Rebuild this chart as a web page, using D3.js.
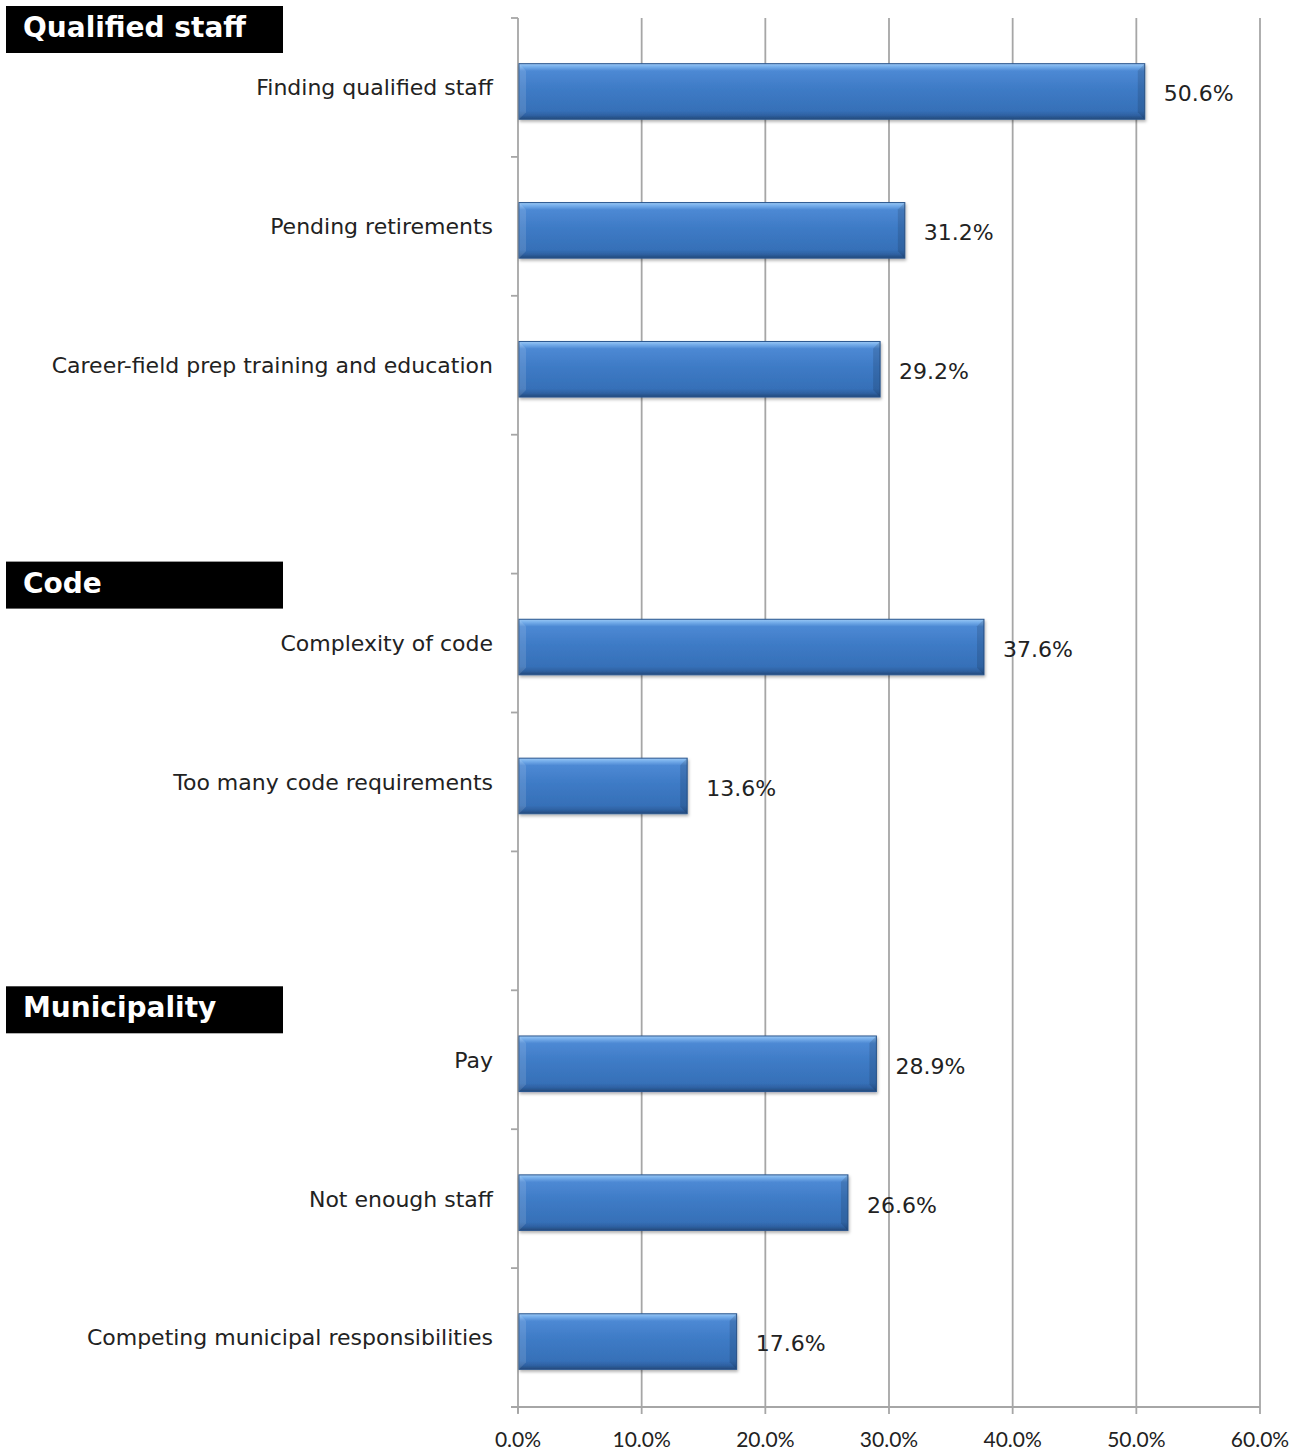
<!DOCTYPE html>
<html><head><meta charset="utf-8">
<script src="https://cdn.jsdelivr.net/npm/d3@7"></script>
<style>body{margin:0;background:#fff}</style>
</head><body>
<script>
const categories = ["Finding qualified staff","Pending retirements","Career-field prep training and education","",
  "Complexity of code","Too many code requirements","",
  "Pay","Not enough staff","Competing municipal responsibilities"];
const values = [50.6,31.2,29.2,null,37.6,13.6,null,28.9,26.6,17.6];
const groups = ["Qualified staff","Code","Municipality"];
const groupStart = [0,4,7];
const xTicks = [0,10,20,30,40,50,60];

const W=1301,H=1450;
const svg=d3.select("body").append("svg").attr("width",W).attr("height",H);
const defs=svg.append("defs");
const g1=defs.append("linearGradient").attr("id","bar").attr("x1",0).attr("y1",0).attr("x2",0).attr("y2",1);
[[0,"#9cc8f4"],[0.05,"#78b0ec"],[0.13,"#4d89d4"],[0.45,"#3e7bc6"],[0.85,"#3670b8"],[0.93,"#2e61a2"],[1,"#24497a"]]
 .forEach(([o,c])=>g1.append("stop").attr("offset",o).attr("stop-color",c));
const f=defs.append("filter").attr("id","sh").attr("x","-5%").attr("y","-20%").attr("width","115%").attr("height","160%");
f.append("feDropShadow").attr("dx",1).attr("dy",2).attr("stdDeviation",1.5).attr("flood-color","#000").attr("flood-opacity",0.3);

const x=d3.scaleLinear().domain([0,60]).range([518,1260]);
const y=d3.scaleBand().domain(d3.range(categories.length)).range([18,1407]).paddingInner(0.6).paddingOuter(0.3);
const step=y.step();
const axisCol="#a6a6a6";

// gridlines
svg.append("g").selectAll("line").data(xTicks.slice(1)).join("line")
 .attr("x1",d=>x(d)).attr("x2",d=>x(d)).attr("y1",18).attr("y2",1407)
 .attr("stroke",axisCol).attr("stroke-width",1.8);

// y axis line & ticks
svg.append("line").attr("x1",518).attr("x2",518).attr("y1",18).attr("y2",1413).attr("stroke",axisCol).attr("stroke-width",1.8);
svg.append("g").selectAll("line").data(d3.range(categories.length+1)).join("line")
 .attr("x1",511).attr("x2",518).attr("y1",i=>18+i*step).attr("y2",i=>18+i*step)
 .attr("stroke",axisCol).attr("stroke-width",1.8);
// x axis
svg.append("line").attr("x1",511).attr("x2",1260).attr("y1",1407).attr("y2",1407).attr("stroke",axisCol).attr("stroke-width",1.8);
svg.append("g").selectAll("line").data(xTicks).join("line")
 .attr("x1",d=>x(d)).attr("x2",d=>x(d)).attr("y1",1407).attr("y2",1414)
 .attr("stroke",axisCol).attr("stroke-width",1.8);
svg.append("g").selectAll("text").data(xTicks).join("text")
 .attr("x",d=>x(d)).attr("y",1447).attr("text-anchor","middle")
 .attr("font-family","Lato, 'Liberation Sans', sans-serif").attr("font-size",21).attr("fill","#222")
 .text(d=>d.toFixed(1)+"%");

const data=categories.map((c,i)=>({c,v:values[i],i})).filter(d=>d.v!=null);
const bh=y.bandwidth();
const bg=svg.append("g").selectAll("g").data(data).join("g")
 .attr("transform",d=>`translate(${x(0)+1},${y(d.i)+4})`);
bg.append("rect").attr("width",d=>x(d.v)-x(0)).attr("height",bh)
 .attr("fill","url(#bar)").attr("stroke","#2a568e").attr("stroke-width",1).attr("filter","url(#sh)");
// bevel ends
bg.append("path").attr("d",`M0,0 L7,7 L7,${bh-7} L0,${bh} Z`).attr("fill","rgba(255,255,255,0.12)");
bg.append("path").attr("d",d=>{const w=x(d.v)-x(0);return `M${w},0 L${w-7},7 L${w-7},${bh-7} L${w},${bh} Z`;})
 .attr("fill","rgba(0,0,0,0.12)");

svg.append("g").selectAll("text").data(data).join("text")
 .attr("x",d=>x(d.v)+20).attr("y",d=>y(d.i)+6+bh/2).attr("dy","0.36em")
 .attr("font-family","'DejaVu Sans', Verdana, sans-serif").attr("font-size",22).attr("fill","#222")
 .text(d=>d.v.toFixed(1)+"%");

svg.append("g").selectAll("text").data(data).join("text")
 .attr("x",493).attr("y",d=>y(d.i)+bh/2).attr("dy","0.36em").attr("text-anchor","end")
 .attr("font-family","'DejaVu Sans', Verdana, sans-serif").attr("font-size",22).attr("fill","#222")
 .text(d=>d.c);

// group headers
const headerDy=[-12,-12,-4];
const hg=svg.append("g").selectAll("g").data(groups).join("g")
 .attr("transform",(d,i)=>`translate(6,${18+groupStart[i]*step+headerDy[i]})`);
hg.append("rect").attr("width",277).attr("height",47).attr("fill","#000");
hg.append("text").attr("x",17).attr("y",21).attr("dy","0.36em")
 .attr("font-family","'DejaVu Sans', Verdana, sans-serif").attr("font-weight","bold").attr("font-size",28).attr("fill","#fff")
 .text(d=>d);
</script>
</body></html>
